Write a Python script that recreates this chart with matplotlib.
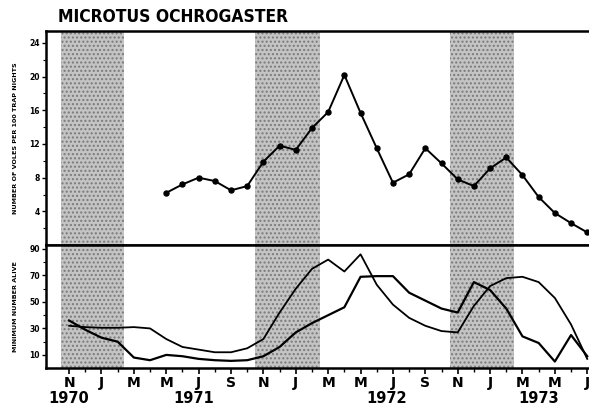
import numpy as np
import matplotlib
matplotlib.use('Agg')
from matplotlib import pyplot as plt
from matplotlib import transforms

# months counted from Nov 1970 (0) to Jul 1973 (32)
month_labels = ['N', 'J', 'M', 'M', 'J', 'S'] * 3
month_labels = month_labels[:17]
years = ['1970', '1971', '1972', '1973']
year_pos = [0, 7.7, 19.6, 29]

# winter bands (start, end) in months
winters = [(-0.5, 3.4), (11.5, 15.5), (23.5, 27.5)]

# voles per 100 trap nights, May 1971 .. Jul 1973
trap_months = list(range(6, 33))
trap_vals = [6.2, 7.2, 8.0, 7.6, 6.5, 7.0, 9.9, 11.8, 11.3, 13.9, 15.8, 20.2, 15.7,
             11.5, 7.4, 8.4, 11.5, 9.7, 7.8, 7.0, 9.1, 10.4, 8.3, 5.7, 3.8, 2.6, 1.5]

# minimum number alive, Nov 1970 .. Jul 1973
mna_months = list(range(0, 33))
mna_a = [36, 29, 23, 20, 8, 6, 10, 9, 7, 6, 5.5, 6, 9, 16, 27, 34, 40, 46, 69, 69.5,
         69.5, 57, 51, 45, 42, 65, 59, 45, 24, 19, 5, 25, 9]
mna_b = [32, 31, 30.5, 30.5, 31, 30, 22, 16, 14, 12, 12, 15, 22, 42, 60, 75, 82, 73, 86,
         63, 48, 38, 32, 28, 27, 47, 62, 68, 69, 65, 53, 33, 7]

fig = plt.figure(figsize=(5.89, 4.05), dpi=100)
ax1 = fig.add_axes([0.078, 0.395, 0.93, 0.528])
ax2 = fig.add_axes([0.078, 0.091, 0.93, 0.304], sharex=ax1)

xmin, xmax = -1.43, 32.4
for ax in (ax1, ax2):
    for a, b in winters:
        ax.axvspan(a, b, facecolor='#c4c4c4', edgecolor='#7a7a7a', hatch='....',
                   linewidth=0, zorder=0)
    ax.set_xlim(xmin, xmax)
    for s in ax.spines.values():
        s.set_linewidth(1.8)
    ax.spines['right'].set_visible(False)
    ax.tick_params(axis='y', direction='out', length=3, width=1, labelsize=5.5, pad=1.5)
    ax.tick_params(axis='y', which='minor', direction='out', length=2, width=0.8)

ax1.plot(trap_months, trap_vals, color='black', lw=1.4, marker='o', ms=3.6)
ax1.set_ylim(0, 25.4)
ax1.set_yticks([4, 8, 12, 16, 20, 24])
ax1.set_yticks(range(2, 25, 4), minor=True)
ax1.tick_params(axis='x', which='both', bottom=False, labelbottom=False)
ax1.set_ylabel('NUMBER OF VOLES PER 100 TRAP NIGHTS', fontsize=4.6, fontweight='bold', labelpad=8)
for t in ax1.get_yticklabels():
    t.set_fontweight('bold')

ax2.plot(mna_months, mna_a, color='black', lw=1.6)
ax2.plot(mna_months, mna_b, color='black', lw=1.3)
ax2.set_ylim(0, 93)
ax2.set_yticks([10, 30, 50, 70, 90])
ax2.set_yticks([20, 40, 60, 80], minor=True)
ax2.set_xticks(range(0, 33, 2))
ax2.set_xticklabels(month_labels, fontsize=10, fontweight='bold')
ax2.set_xticks(range(1, 33, 2), minor=True)
ax2.tick_params(axis='x', which='major', direction='out', length=4, width=1.2, pad=2)
ax2.tick_params(axis='x', which='minor', direction='out', length=3, width=1)
ax2.set_ylabel('MINIMUM NUMBER ALIVE', fontsize=4.6, fontweight='bold', labelpad=8)
for t in ax2.get_yticklabels():
    t.set_fontweight('bold')

trans = transforms.blended_transform_factory(ax2.transData, ax2.transAxes)
for y, p in zip(years, year_pos):
    ax2.text(p, -0.185, y, transform=trans, ha='center', va='top',
             fontsize=10.5, fontweight='bold')

fig.text(0.098, 0.957, 'MICROTUS OCHROGASTER', fontsize=12.5, fontweight='bold',
         family='DejaVu Sans', fontstretch='condensed', va='center', ha='left')

fig.savefig('out.png', dpi=100)
